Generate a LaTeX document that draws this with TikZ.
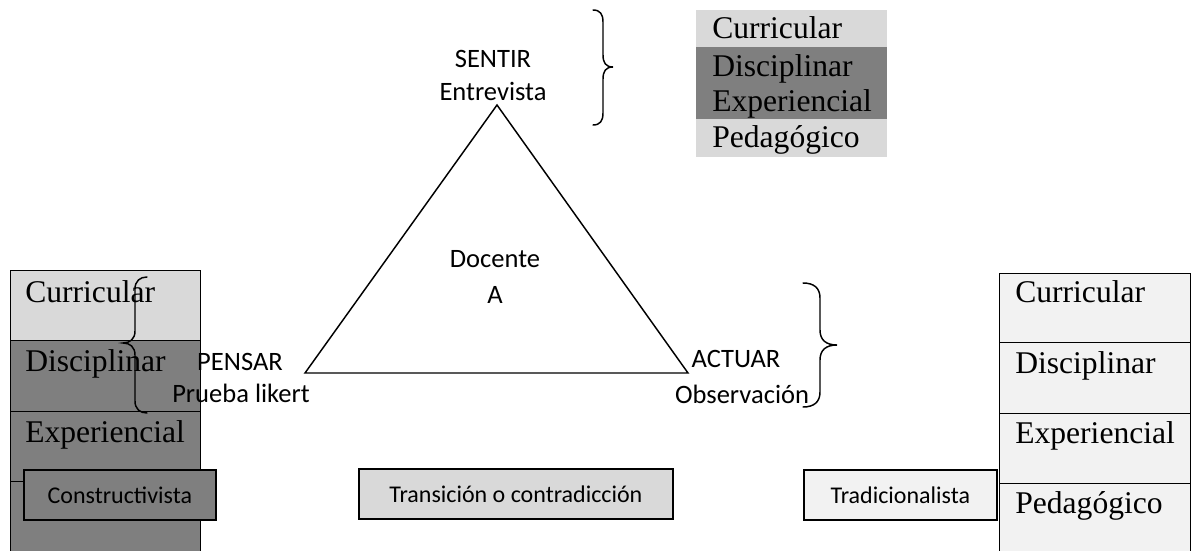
\documentclass[tikz,border=0pt]{standalone}
\usepackage{fontspec}
\setmainfont{Liberation Serif}
\newfontfamily\calibri{Carlito}
\definecolor{lgray}{HTML}{D9D9D9}
\definecolor{dgray}{HTML}{7F7F7F}
\definecolor{pgray}{HTML}{F2F2F2}
\begin{document}
\begin{tikzpicture}[x=0.75pt,y=-0.75pt,
  tms/.style={font=\fontsize{23.7}{28}\selectfont, anchor=base west, inner sep=0pt},
  cal/.style={font=\calibri\fontsize{19.9}{24}\selectfont, anchor=base, inner sep=0pt},
  cell/.style={draw=black, line width=0.75pt, anchor=north west, inner sep=0pt},
  band/.style={anchor=north west, inner sep=0pt, minimum width=143.25pt},
  smallbox/.style={draw=black, line width=1.3pt, anchor=north west, inner sep=0pt,
    minimum height=37.5pt, font=\calibri\fontsize{18}{22}\selectfont},
  brace/.style={line width=1.1pt, line cap=round}
]
\useasboundingbox (0,0) rectangle (1192,550);

% ---------- top-right band box ----------
\node[band, fill=lgray, minimum height=27.75pt] (b1) at (696,10) {};
\node[band, fill=dgray, minimum height=54pt] (b2) at (696,47) {};
\node[band, fill=lgray, minimum height=28.5pt] (b3) at (696,119) {};
\node[tms] (t1) at (712,38) {Curricular};
\node[tms] (t2) at (712,76) {Disciplinar};
\node[tms] (t3) at (712,111) {Experiencial};
\node[tms] (t4) at (712,147) {Pedagógico};

% ---------- left column ----------
\node[cell, fill=lgray, minimum width=142.5pt, minimum height=52.5pt] (l1) at (10,270) {};
\node[cell, fill=dgray, minimum width=142.5pt, minimum height=53.25pt] (l2) at (10,340) {};
\node[cell, fill=dgray, minimum width=142.5pt, minimum height=52.5pt] (l3) at (10,411) {};
\node[cell, fill=dgray, minimum width=142.5pt, minimum height=60pt] (l4) at (10,481) {};
\node[tms] (lt1) at (25,302) {Curricular};
\node[tms] (lt2) at (25,371) {Disciplinar};
\node[tms] (lt3) at (25,442) {Experiencial};

% ---------- right column ----------
\node[cell, fill=pgray, minimum width=143.25pt, minimum height=51.75pt] (r1) at (999,273) {};
\node[cell, fill=pgray, minimum width=143.25pt, minimum height=53.25pt] (r2) at (999,342) {};
\node[cell, fill=pgray, minimum width=143.25pt, minimum height=52.5pt] (r3) at (999,413) {};
\node[cell, fill=pgray, minimum width=143.25pt, minimum height=60pt] (r4) at (999,483) {};
\node[tms] (rt1) at (1015,302) {Curricular};
\node[tms] (rt2) at (1015,373) {Disciplinar};
\node[tms] (rt3) at (1015,443) {Experiencial};
\node[tms] (rt4) at (1015,513) {Pedagógico};

% ---------- triangle ----------
\coordinate (apex) at (497,105);
\coordinate (bl) at (305,373);
\coordinate (br) at (688,373);
\draw[line width=1.1pt, line join=miter] (apex) -- (bl) -- (br) -- cycle;

\node[cal] (sentir) at (493,67) {SENTIR};
\node[cal] (entre) at (493,100) {Entrevista};
\node[cal] (doc) at (495,267) {Docente};
\node[cal] (docA) at (495,303) {A};
\node[cal] (pensar) at (240,370) {PENSAR};
\node[cal] (likert) at (241,402) {Prueba likert};
\node[cal] (actuar) at (736,367) {ACTUAR};
\node[cal] (obs) at (742,403) {Observación};

% ---------- braces ----------
\draw[brace] (593,10) .. controls (600,10) and (603,14) .. (603,22) -- (603,55)
  .. controls (603,63) and (606,67) .. (613,67)
  .. controls (606,67) and (603,71) .. (603,79) -- (603,113)
  .. controls (603,121) and (600,125) .. (593,125);
\draw[brace] (803,283) .. controls (814,283) and (820,288) .. (820,298) -- (820,330)
  .. controls (820,340) and (826,345) .. (837,345)
  .. controls (826,345) and (820,350) .. (820,360) -- (820,392)
  .. controls (820,402) and (814,407) .. (803,407);
\draw[brace] (147,277) .. controls (140,277) and (135,281) .. (135,289) -- (135,331)
  .. controls (135,339) and (130,343) .. (123,343)
  .. controls (130,343) and (135,347) .. (135,355) -- (135,401)
  .. controls (135,409) and (140,413) .. (147,413);

% ---------- bottom boxes ----------
\node[smallbox, fill=dgray, minimum width=144pt] (constr) at (23,469) {Constructivista};
\node[smallbox, fill=lgray, minimum width=235.5pt] (trans) at (358,468) {Transición o contradicción};
\node[smallbox, fill=pgray, minimum width=144.75pt] (trad) at (803,469) {Tradicionalista};
\end{tikzpicture}
\end{document}
